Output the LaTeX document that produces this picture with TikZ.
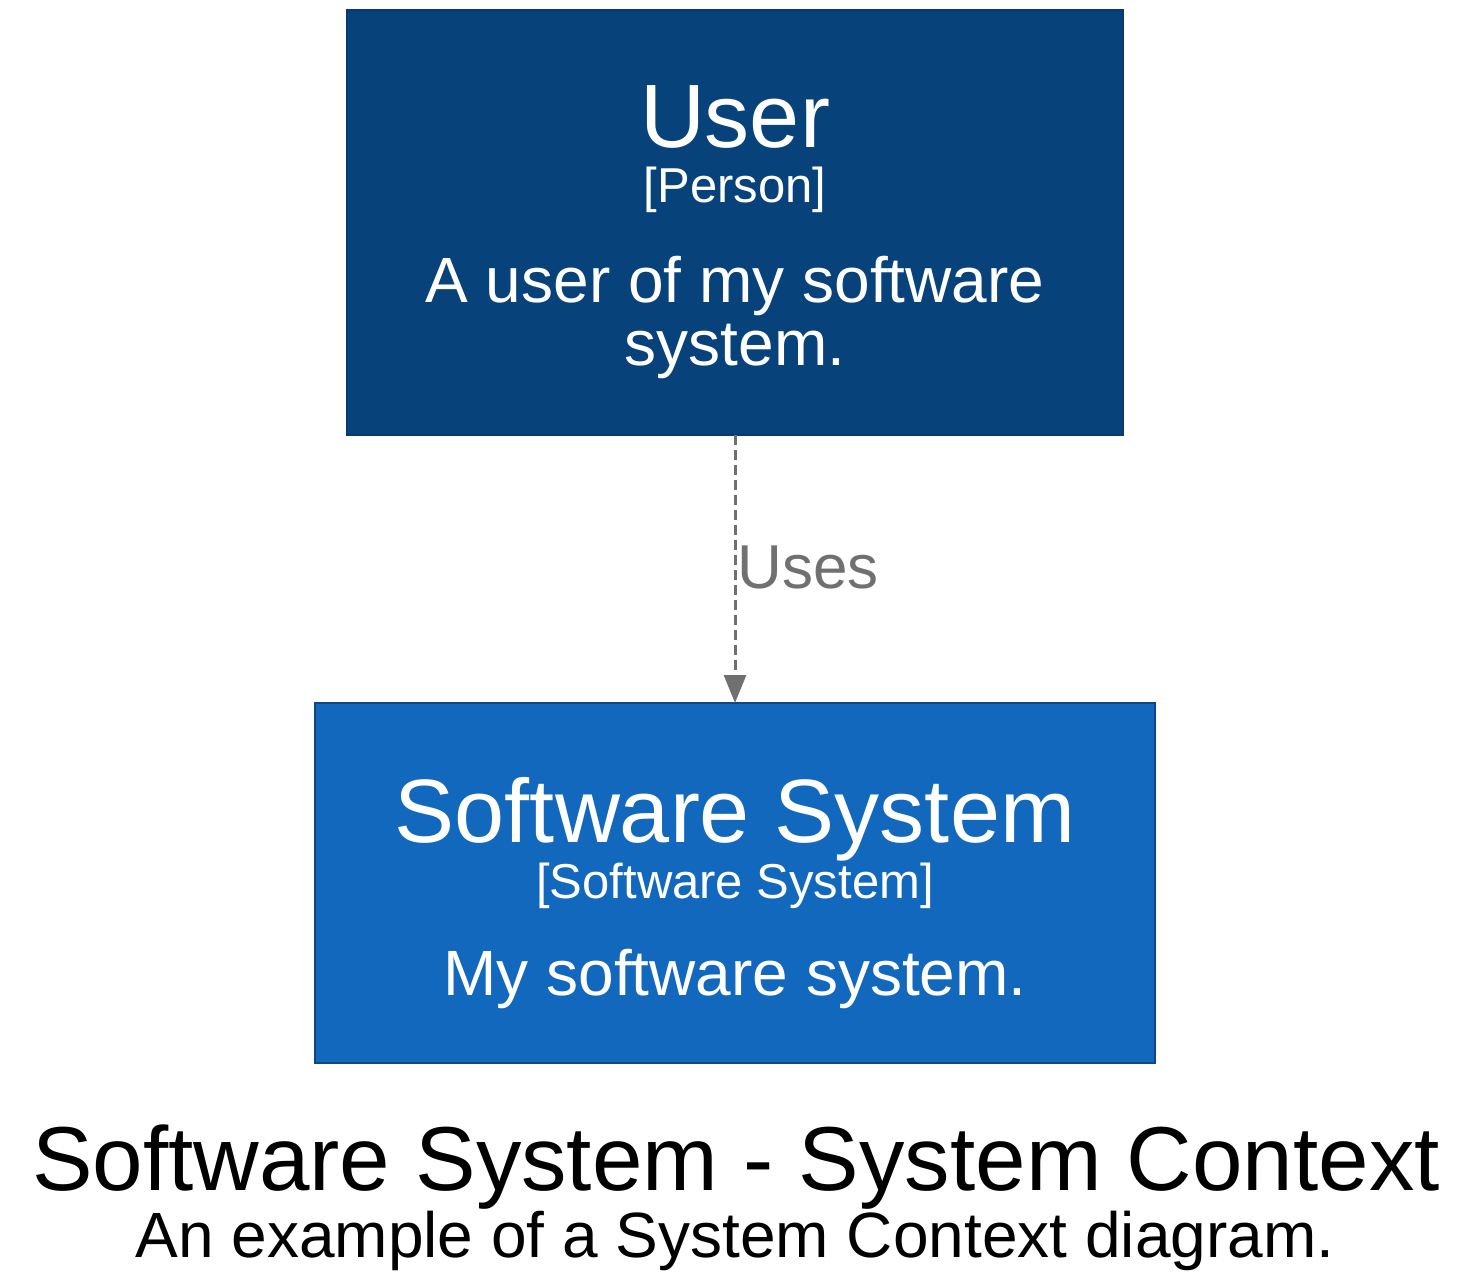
\documentclass[tikz,border=0pt]{standalone}
\usepackage{fontspec}
\setmainfont{Liberation Sans}
\usetikzlibrary{arrows.meta}
\definecolor{personfill}{HTML}{08427B}
\definecolor{personline}{HTML}{073B6F}
\definecolor{sysfill}{HTML}{1168BD}
\definecolor{sysline}{HTML}{0B4884}
\definecolor{relgrey}{HTML}{707070}
\tikzset{
  box/.style={draw, line width=1pt, outer sep=0pt, inner sep=0pt},
  txt/.style={anchor=base, inner sep=0pt, outer sep=0pt, white},
  namefont/.style={font=\fontsize{45}{50}\selectfont, text depth=0pt},
  metafont/.style={font=\fontsize{24.5}{27}\selectfont, text height=16pt},
  descfont/.style={font=\fontsize{32}{31.5}\selectfont},
  rel/.style={relgrey, line width=1.5pt, dash pattern=on 5pt off 2.5pt, -{Triangle[length=14pt,width=11pt]}},
}
\begin{document}
\begin{tikzpicture}[x=0.5pt,y=-0.5pt]
\useasboundingbox (0,0) rectangle (1470,1288);
% boxes
\node[box, draw=personline, fill=personfill, minimum width=388pt, minimum height=212.5pt] (user) at (735,222.5) {};
\node[box, draw=sysline, fill=sysfill, minimum width=420pt, minimum height=180pt] (sys) at (735,883) {};
% user texts
\node[txt, namefont] (username) at (735,148) {User};
\node[txt, metafont] (usermeta) at (735,203) {[Person]};
\node[txt, descfont] (userdesc1) at (735,303) {A user of my software};
\node[txt, descfont] (userdesc2) at (735,366) {system.};
% system texts
\node[txt, namefont] (sysname) at (735,842) {Software System};
\node[txt, metafont] (sysmeta) at (735,898) {[Software System]};
\node[txt, descfont] (sysdesc) at (735,995) {My software system.};
% relationship
\draw[rel] (user.south) -- (sys.north);
\node[anchor=base west, inner sep=0pt, relgrey, font=\fontsize{31}{34}\selectfont] (uses) at (737,588) {Uses};
% title
\node[anchor=base, inner sep=0pt, black, font=\fontsize{45.4}{50}\selectfont] (title) at (736,1190) {Software System - System Context};
\node[anchor=base, inner sep=0pt, black, font=\fontsize{32}{35}\selectfont] (subtitle) at (735,1257) {An example of a System Context diagram.};
\end{tikzpicture}
\end{document}
